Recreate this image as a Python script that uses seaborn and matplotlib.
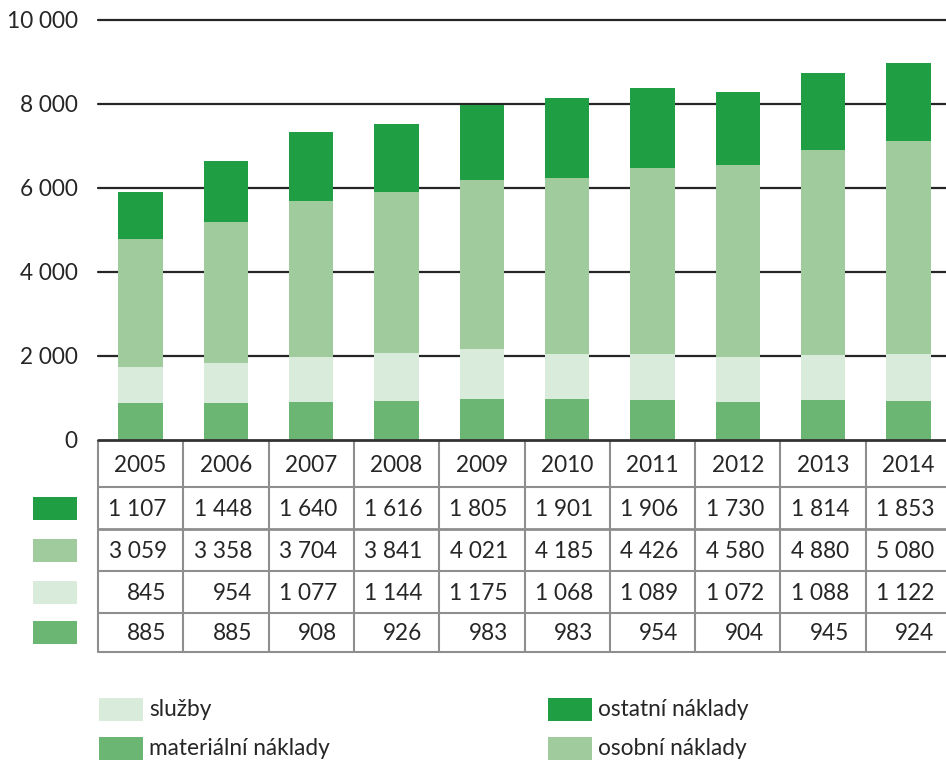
import matplotlib
matplotlib.use("Agg")
import matplotlib.pyplot as plt
from matplotlib.patches import Rectangle
import numpy as np
import pandas as pd
import seaborn as sns

# Annual costs by category
years = ["2005", "2006", "2007", "2008", "2009", "2010", "2011", "2012", "2013", "2014"]
ostatni = [1107, 1448, 1640, 1616, 1805, 1901, 1906, 1730, 1814, 1853]
osobni = [3059, 3358, 3704, 3841, 4021, 4185, 4426, 4580, 4880, 5080]
sluzby = [845, 954, 1077, 1144, 1175, 1068, 1089, 1072, 1088, 1122]
materialni = [885, 885, 908, 926, 983, 983, 954, 904, 945, 924]

y_ticks = [0, 2000, 4000, 6000, 8000, 10000]

C_OSTATNI = "#1f9e44"
C_OSOBNI = "#9fcb9d"
C_SLUZBY = "#d9ecdb"
C_MATERIAL = "#6bb672"
TEXT = "#262626"
GRID = "#262626"
CELL = "#8e8e8e"
FS = 16.3

sns.set_theme(style="white")
plt.rcParams["font.family"] = ["Lato", "DejaVu Sans"]

W, H = 946, 763
fig = plt.figure(figsize=(W / 100, H / 100), dpi=100)


def box(x0, y0, x1, y1):
    """Pixel box (top-left origin) -> figure fraction rect."""
    return [x0 / W, 1 - y1 / H, (x1 - x0) / W, (y1 - y0) / H]


def fx(x):
    return x / W


def fy(y):
    return 1 - y / H


def fmt(v):
    return f"{v:,}".replace(",", " ")


df = pd.DataFrame({
    "rok": years,
    "materialni": materialni,
    "sluzby": sluzby,
    "osobni": osobni,
    "ostatni": ostatni,
})
df["c1"] = df["materialni"]
df["c2"] = df["c1"] + df["sluzby"]
df["c3"] = df["c2"] + df["osobni"]
df["c4"] = df["c3"] + df["ostatni"]

# Stacked bars: cumulative totals drawn from the top segment down
ax = fig.add_axes(box(98, 20, 951, 440))
for col, color in [("c4", C_OSTATNI), ("c3", C_OSOBNI), ("c2", C_SLUZBY), ("c1", C_MATERIAL)]:
    sns.barplot(data=df, x="rok", y=col, color=color, width=0.52, ax=ax,
                saturation=1, edgecolor="none", linewidth=0, zorder=3)

ax.set_xlim(-0.5, len(years) - 0.5)
ax.set_ylim(0, 10000)
ax.set_yticks(y_ticks)
ax.set_yticklabels([fmt(v) for v in y_ticks], fontsize=FS, color=TEXT)
ax.tick_params(axis="y", length=0, pad=14.5)
ax.set_xticks([])
ax.set_xlabel("")
ax.set_ylabel("")
for v in y_ticks[1:]:
    ax.axhline(v, color=GRID, lw=1.6, zorder=1, clip_on=False)
for s in ax.spines.values():
    s.set_visible(False)
ax.set_facecolor("none")

# Data table under the bars
tab = fig.add_axes(box(98, 440, 951, 652))
tab.set_xlim(-0.5, len(years) - 0.5)
tab.set_ylim(212, 0)
tab.axis("off")
rows = [0, 47, 89, 131, 173, 212]
for i, yr in enumerate(years):
    tab.text(i, (rows[0] + rows[1]) / 2 + 1.5, yr, ha="center", va="center",
             fontsize=FS, color=TEXT)
series_rows = [ostatni, osobni, sluzby, materialni]
for r, vals in enumerate(series_rows):
    yc = (rows[r + 1] + rows[r + 2]) / 2 + 1
    for i, v in enumerate(vals):
        tab.text(i + 0.305, yc, fmt(v), ha="right", va="center",
                 fontsize=FS, color=TEXT)
for k in range(len(years) + 1):
    tab.plot([k - 0.5, k - 0.5], [rows[0], rows[-1]], color=CELL, lw=1.5,
             clip_on=False, solid_capstyle="butt")
for r in rows[1:]:
    tab.plot([-0.5, len(years) - 0.5], [r, r], color=CELL, lw=1.5 if r != 89 else 2.0,
             clip_on=False)
# top rule of the table doubles as the baseline
fig.add_artist(plt.Line2D([fx(98), fx(951)], [fy(440), fy(440)], color="#333333", lw=2.0))

# Row keys to the left of the table
for r, color in enumerate([C_OSTATNI, C_OSOBNI, C_SLUZBY, C_MATERIAL]):
    yc = 440 + (rows[r + 1] + rows[r + 2]) / 2
    fig.add_artist(Rectangle((fx(33), fy(yc + 11.5)), 44 / W, 23 / H,
                             transform=fig.transFigure, facecolor=color, edgecolor="none"))

# Legend
legend_items = [
    (99, 709.5, C_SLUZBY, "služby"),
    (99, 748.5, C_MATERIAL, "materiální náklady"),
    (548, 709.5, C_OSTATNI, "ostatní náklady"),
    (548, 748.5, C_OSOBNI, "osobní náklady"),
]
for x0, yc, color, label in legend_items:
    fig.add_artist(Rectangle((fx(x0), fy(yc + 11.5)), 44 / W, 23 / H,
                             transform=fig.transFigure, facecolor=color, edgecolor="none"))
    fig.text(fx(x0 + 50), fy(yc), label, ha="left", va="center", fontsize=FS, color=TEXT)

fig.savefig("out.png", dpi=100)
